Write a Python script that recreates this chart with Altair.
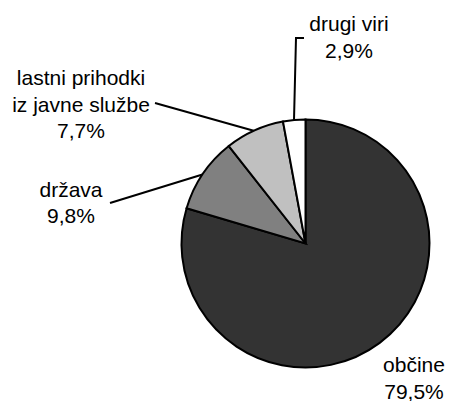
import altair as alt
import pandas as pd

# ---- data ----
categories = ["občine", "država", "lastni prihodki iz javne službe", "drugi viri"]
values = [79.5, 9.8, 7.7, 2.9]
label_names = [["občine"], ["država"], ["lastni prihodki", "iz javne službe"], ["drugi viri"]]
colors = ["#333333", "#808080", "#c0c0c0", "#ffffff"]

# ---- layout (page pixel coordinates) ----
W, H = 438, 393
CX, CY, R = 305.5, 243.5, 124
FONT = "Liberation Sans"
FS = 21
STEP = 26.5
label_anchor = {  # center x, first baseline y
    "občine": (414, 372),
    "država": (71, 196.5),
    "lastni prihodki iz javne službe": (81, 85),
    "drugi viri": (349, 31),
}
leader_pts = {
    "drugi viri": [(294, 120), (296, 38), (304, 38)],
    "lastni prihodki iz javne službe": [(155, 103), (253.7, 130.8)],
    "država": [(110, 203), (202.5, 174.5)],
}

pie_df = pd.DataFrame({"cat": categories, "val": values, "ord": list(range(len(categories)))})

rows = []
for cat, v, names in zip(categories, values, label_names):
    lines = names + [f"{v:.1f}".replace(".", ",") + "%"]
    x0, y0 = label_anchor[cat]
    for i, t in enumerate(lines):
        rows.append({"t": t, "x": x0, "y": y0 + i * STEP})
text_df = pd.DataFrame(rows)

lrows = []
for cat, pts in leader_pts.items():
    for i, (x, y) in enumerate(pts):
        lrows.append({"cat": cat, "i": i, "x": x, "y": y})
line_df = pd.DataFrame(lrows)

xs = alt.Scale(domain=[8, 8 + W], range=[0, W])
ys = alt.Scale(domain=[8, 8 + H], range=[0, H])

pie = alt.Chart(pie_df).mark_arc(outerRadius=R, stroke="black", strokeWidth=2).encode(
    theta=alt.Theta("val:Q", stack=True),
    order=alt.Order("ord:Q"),
    color=alt.Color("cat:N", scale=alt.Scale(domain=categories, range=colors), legend=None),
    x=alt.value(CX - 8),
    y=alt.value(CY - 8),
)

leaders = alt.Chart(line_df).mark_line(color="black", strokeWidth=2).encode(
    x=alt.X("x:Q", scale=xs, axis=None),
    y=alt.Y("y:Q", scale=ys, axis=None),
    detail="cat:N",
    order="i:Q",
)

texts = alt.Chart(text_df).mark_text(
    font=FONT, fontSize=FS, color="black", align="center", baseline="alphabetic"
).encode(
    x=alt.X("x:Q", scale=xs, axis=None),
    y=alt.Y("y:Q", scale=ys, axis=None),
    text="t:N",
)

chart = alt.layer(leaders, pie, texts).properties(
    width=W, height=H, padding=0, autosize=alt.AutoSizeParams(type="none")
).configure_view(stroke=None).resolve_scale(color="independent")

chart.save("out.html", embed_options={"renderer": "svg", "actions": False})
